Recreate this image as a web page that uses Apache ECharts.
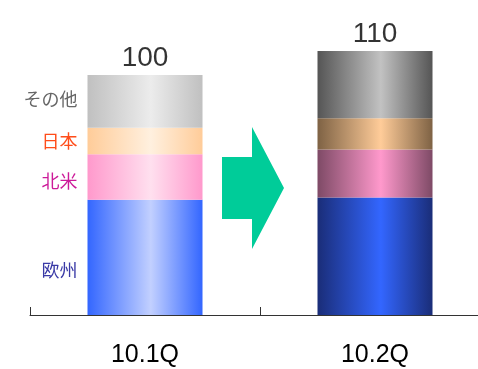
<!DOCTYPE html>
<html>
<head>
<meta charset="utf-8">
<script src="https://cdn.jsdelivr.net/npm/echarts@6/dist/echarts.min.js"></script>
<style>
  html, body { margin: 0; padding: 0; background: #fff; }
  #chart { width: 478px; height: 369px; }
</style>
</head>
<body>
<div id="chart"></div>
<script>
// Quarterly sales by region (index, 10.1Q = 100)
const categories = ['10.1Q', '10.2Q'];
const regionNames = ['欧州', '北米', '日本', 'その他'];
const europe = [48, 49];
const northAmerica = [19, 20];
const japan = [11, 13];
const others = [22, 28];

const segments = [europe, northAmerica, japan, others];
const totals = categories.map((_, i) => segments.reduce((s, arr) => s + arr[i], 0));

// cylinder-like horizontal shading: [edge, highlight] per quarter
const shades = [
  [['#3366ff', '#c2d0ff'], ['#1a2d78', '#3366ff']],
  [['#ff99cc', '#ffe0ef'], ['#7e4a66', '#ff99cc']],
  [['#ffcc99', '#fff0df'], ['#7e6244', '#ffcc99']],
  [['#c0c0c0', '#ececec'], ['#555555', '#c2c2c2']]
];
const nameColors = ['#3a3aa6', '#cc1a99', '#ff4d1a', '#666666'];
const nameOffsets = [[0, 13], [0, 4], [0, 0], [0, -2]];

function shade(edge, center) {
  return new echarts.graphic.LinearGradient(0, 0, 1, 0, [
    { offset: 0, color: edge },
    { offset: 0.55, color: center },
    { offset: 1, color: edge }
  ]);
}

const FONT = "'Liberation Sans', 'Noto Sans CJK JP', sans-serif";

const barSeries = segments.map((values, s) => ({
  type: 'bar',
  name: regionNames[s],
  stack: 'sales',
  barWidth: '50%',
  data: values.map((v, i) => {
    const item = {
      value: v,
      itemStyle: { color: shade(shades[s][i][0], shades[s][i][1]) }
    };
    if (i === 0) {
      item.label = {
        show: true,
        position: 'left',
        distance: 10,
        offset: nameOffsets[s],
        formatter: regionNames[s],
        color: nameColors[s],
        fontSize: 18,
        fontFamily: "'Noto Sans CJK JP', sans-serif"
      };
    }
    return item;
  })
}));

const chart = echarts.init(document.getElementById('chart'), null, { renderer: 'canvas' });
chart.setOption({
  animation: false,
  textStyle: { fontFamily: FONT },
  grid: { left: 30, right: -12, top: 27, bottom: 54, outerBoundsMode: 'none', containLabel: false },
  xAxis: {
    type: 'category',
    data: categories,
    axisLine: { lineStyle: { color: '#333', width: 1 } },
    axisTick: { show: true, inside: true, length: 8, lineStyle: { color: '#333' } },
    axisLabel: { color: '#000', fontSize: 25, margin: 28, fontFamily: FONT }
  },
  yAxis: {
    type: 'value',
    min: 0,
    max: 120,
    show: false,
    splitLine: { show: false }
  },
  series: barSeries.concat([{
    type: 'scatter',
    name: 'total',
    data: totals,
    symbolSize: 1,
    itemStyle: { color: 'rgba(0,0,0,0)' },
    z: 5,
    label: {
      show: true,
      position: 'top',
      distance: 2,
      color: '#000',
      fontSize: 28,
      fontFamily: FONT,
      formatter: p => String(p.value)
    }
  }]),
  graphic: [{
    type: 'polygon',
    shape: {
      points: [[222, 157], [252, 157], [252, 127], [284, 188], [252, 249], [252, 219], [222, 219]]
    },
    style: { fill: '#00cc99' },
    z: 10
  }]
});
</script>
</body>
</html>
